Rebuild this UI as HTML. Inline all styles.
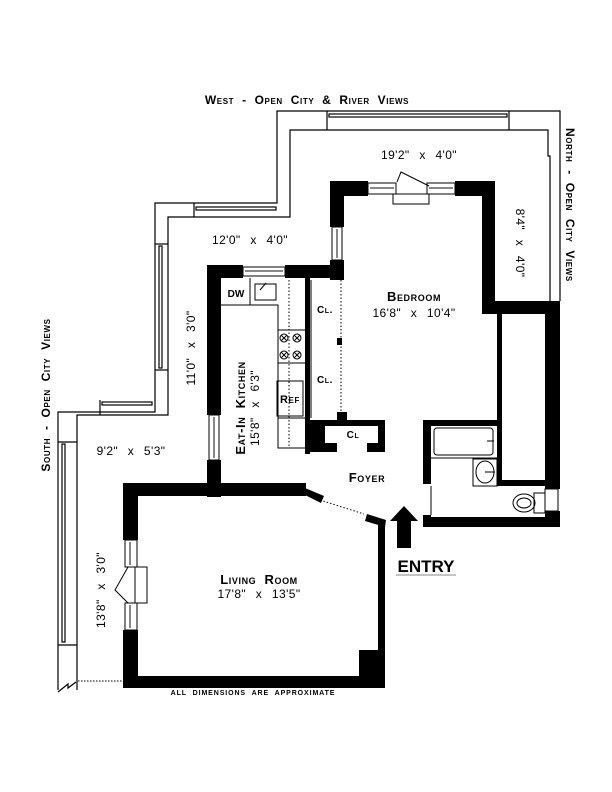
<!DOCTYPE html>
<html><head><style>
body{margin:0;background:#fff}
svg{display:block}
text{font-family:"Liberation Sans",sans-serif;fill:#000}
.sc{font-variant:small-caps;font-weight:bold;letter-spacing:0.6px;word-spacing:4px}
.d{word-spacing:6px;letter-spacing:0.4px}
</style></head><body>
<svg width="612" height="792" viewBox="0 0 612 792" xmlns="http://www.w3.org/2000/svg">
<g fill="none" stroke="#000" stroke-width="1.2">
<polyline points="560,301 560,111 277,111 277,203 155,203 155,412 58,412 58,690"/>
<polyline points="550,301 550,156 548,156 548,130 290,130 290,217 168,217 168,415 77,415 77,690"/>
<line x1="327" y1="111" x2="327" y2="130"/><line x1="509" y1="111" x2="509" y2="130"/>
<rect x="329" y="114" width="178" height="3"/>
<line x1="194" y1="203" x2="194" y2="217"/>
<rect x="196" y="207" width="80" height="3"/>
<line x1="155" y1="244" x2="168" y2="244"/><line x1="155" y1="370" x2="168" y2="370"/>
<rect x="159" y="246" width="3" height="122"/>
<line x1="100" y1="400" x2="100" y2="415"/>
<rect x="102" y="402" width="50" height="3"/>
<line x1="58" y1="442" x2="77" y2="442"/><line x1="58" y1="645" x2="77" y2="645"/>
<rect x="62" y="444" width="3" height="198"/>
<polyline points="58,692 68,684 68,688 76,682"/>
</g>
<line x1="78" y1="681" x2="123" y2="681" stroke="#000" stroke-dasharray="1.5,1.5"/>
<g fill="#000">
<rect x="330" y="181" width="38" height="15"/>
<rect x="455" y="181" width="40" height="15"/>
<rect x="330" y="181" width="14" height="46"/>
<rect x="330" y="260" width="14" height="20"/>
<rect x="482" y="181" width="13" height="120"/>
<rect x="482" y="301" width="78" height="13"/>
<rect x="545" y="301" width="15" height="188"/>
<rect x="545" y="511" width="15" height="16"/>
<rect x="497" y="301" width="5" height="185"/>
<rect x="497" y="480" width="48" height="6"/>
<rect x="423" y="420" width="79" height="6"/>
<rect x="423" y="420" width="8" height="64"/>
<rect x="423" y="515" width="8" height="12"/>
<rect x="423" y="517" width="137" height="10"/>
<rect x="207" y="265" width="36" height="13"/>
<rect x="285" y="265" width="59" height="13"/>
<rect x="207" y="265" width="14" height="150"/>
<rect x="207" y="460" width="14" height="37"/>
<rect x="305" y="278" width="5" height="176"/>
<rect x="337" y="338" width="5" height="7"/>
<rect x="337" y="412" width="10" height="12"/>
<rect x="305" y="420" width="80" height="6"/>
<rect x="305" y="420" width="20" height="32"/>
<rect x="305" y="443" width="32" height="9"/>
<rect x="367" y="443" width="18" height="9"/>
<rect x="378" y="420" width="7" height="32"/>
<rect x="123" y="483" width="183" height="13"/>
<rect x="123" y="483" width="15" height="57"/>
<rect x="123" y="630" width="15" height="58"/>
<rect x="123" y="676" width="262" height="12"/>
<rect x="378" y="522" width="7" height="166"/>
<rect x="359" y="650" width="26" height="38"/>
<polygon points="305,488 324,496 321,503 303,494"/>
<polygon points="367,514 386,520 385,527 365,521"/>
<polygon points="404,506 418,521 411,521 411,548 397,548 397,521 390,521"/>
</g>
<g fill="#fff" stroke="#000" stroke-width="1">
<rect x="368" y="183" width="28" height="11"/><rect x="427" y="183" width="28" height="11"/>
<rect x="393" y="194" width="36" height="10"/>
<rect x="332" y="227" width="10" height="33"/>
<rect x="243" y="267" width="42" height="9"/>
<rect x="209" y="415" width="10" height="45"/>
<rect x="125" y="540" width="12" height="27"/><rect x="125" y="603" width="12" height="27"/>
<rect x="135" y="567" width="12" height="36"/>
<rect x="545" y="489" width="13" height="22"/>
</g>
<g stroke="#888" stroke-width="2">
<line x1="370" y1="188" x2="394" y2="188"/><line x1="429" y1="188" x2="453" y2="188"/>
<line x1="337" y1="229" x2="337" y2="258"/><line x1="245" y1="271" x2="283" y2="271"/>
<line x1="214" y1="417" x2="214" y2="458"/>
<line x1="130" y1="542" x2="130" y2="565"/><line x1="130" y1="605" x2="130" y2="628"/>
</g>
<g fill="none" stroke="#000" stroke-width="1">
<polyline points="397,182 401,172 429,186"/>
<polyline points="128,567 115,590 128,603"/>
<polyline points="221,305 278,305 278,448 305,448"/>
<line x1="250" y1="278" x2="250" y2="305"/>
<rect x="255" y="284" width="21" height="16"/>
<line x1="260" y1="290" x2="266" y2="283"/>
<line x1="278" y1="330" x2="305" y2="330"/><line x1="278" y1="363" x2="305" y2="363"/>
<rect x="277" y="381" width="26" height="35"/>
<line x1="278" y1="418" x2="305" y2="418"/>
<circle cx="284" cy="338" r="4"/><circle cx="297" cy="338" r="4"/>
<circle cx="284" cy="355" r="4"/><circle cx="297" cy="355" r="4"/>
<line x1="281" y1="335" x2="287" y2="341"/><line x1="287" y1="335" x2="281" y2="341"/>
<line x1="294" y1="335" x2="300" y2="341"/><line x1="300" y1="335" x2="294" y2="341"/>
<line x1="281" y1="352" x2="287" y2="358"/><line x1="287" y1="352" x2="281" y2="358"/>
<line x1="294" y1="352" x2="300" y2="358"/><line x1="300" y1="352" x2="294" y2="358"/>
<line x1="311" y1="280" x2="311" y2="418"/>
<rect x="434" y="428" width="59" height="27" rx="3"/>
<line x1="431" y1="458" x2="497" y2="458"/>
<rect x="473" y="459" width="24" height="27"/>
<ellipse cx="485" cy="472" rx="9" ry="11"/>
<line x1="485" y1="472" x2="495" y2="472"/>
<line x1="487" y1="441" x2="494" y2="441"/>
<line x1="431" y1="486" x2="431" y2="515"/>
<ellipse cx="524" cy="503" rx="11" ry="9"/><ellipse cx="524" cy="503" rx="7" ry="5"/>
<rect x="534" y="493" width="11" height="20"/>
</g>
<g stroke="#000" stroke-width="1" stroke-dasharray="1.5,2">
<line x1="289" y1="280" x2="289" y2="448"/>
<line x1="341" y1="280" x2="341" y2="412"/>
<line x1="320" y1="500" x2="364" y2="514"/>
</g>
<g>
<text x="307" y="104" text-anchor="middle" class="sc" font-size="12">West - Open City &amp; River Views</text>
<text x="419" y="159" text-anchor="middle" class="d" font-size="12">19'2" x 4'0"</text>
<text x="250" y="244" text-anchor="middle" class="d" font-size="12">12'0" x 4'0"</text>
<text x="414" y="301" text-anchor="middle" class="sc" font-size="13">Bedroom</text>
<text x="414" y="317" text-anchor="middle" class="d" font-size="12">16'8" x 10'4"</text>
<text x="131" y="455" text-anchor="middle" class="d" font-size="12">9'2" x 5'3"</text>
<text x="367" y="482" text-anchor="middle" class="sc" font-size="13">Foyer</text>
<text x="259" y="584" text-anchor="middle" class="sc" font-size="13">Living Room</text>
<text x="259" y="598" text-anchor="middle" class="d" font-size="12">17'8" x 13'5"</text>
<text x="236" y="297" text-anchor="middle" font-weight="bold" font-size="10">DW</text>
<text x="290" y="403" text-anchor="middle" class="sc" font-size="11">Ref</text>
<text x="325" y="313" text-anchor="middle" class="sc" font-size="10">Cl.</text>
<text x="325" y="383" text-anchor="middle" class="sc" font-size="10">Cl.</text>
<text x="353" y="438" text-anchor="middle" class="sc" font-size="10">Cl</text>
<text x="426" y="572" text-anchor="middle" font-weight="bold" font-size="17">ENTRY</text>
<text x="253" y="695" text-anchor="middle" font-weight="bold" font-size="7" letter-spacing="0.9" word-spacing="3">ALL DIMENSIONS ARE APPROXIMATE</text>
<text transform="translate(566,128) rotate(90)" class="sc" font-size="12">North - Open City Views</text>
<text transform="translate(516,243) rotate(90)" text-anchor="middle" class="d" font-size="12">8'4" x 4'0"</text>
<text transform="translate(50,395) rotate(-90)" text-anchor="middle" class="sc" font-size="12">South - Open City Views</text>
<text transform="translate(195,348) rotate(-90)" text-anchor="middle" class="d" font-size="12">11'0" x 3'0"</text>
<text transform="translate(245,408) rotate(-90)" text-anchor="middle" class="sc" font-size="13">Eat-In Kitchen</text>
<text transform="translate(259,408) rotate(-90)" text-anchor="middle" class="d" font-size="12">15'8" x 6'3"</text>
<text transform="translate(105,590) rotate(-90)" text-anchor="middle" class="d" font-size="12">13'8" x 3'0"</text>
</g>
<line x1="396" y1="575" x2="456" y2="575" stroke="#888" stroke-width="1"/>
</svg>
</body></html>
